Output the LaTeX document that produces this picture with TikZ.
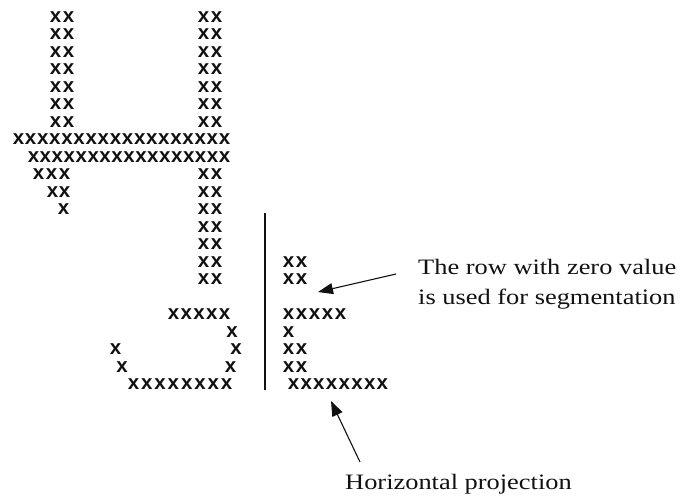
\documentclass[tikz,border=0pt]{standalone}
\usepackage{fontspec}
\usepackage{xcolor}
\usetikzlibrary{arrows.meta}
\newfontfamily\cellfont{Liberation Sans Bold}
\newfontfamily\notefont{Liberation Serif}[FakeStretch=1.2]
\definecolor{ink}{HTML}{111111}

\begin{document}
\begin{tikzpicture}[
  x=1pt,y=-1pt,
  cell/.style={inner sep=0pt,text=ink,text height=10.6pt,text depth=0pt,
               font=\cellfont\fontsize{20.5}{20.5}\selectfont},
  note/.style={inner sep=0pt,align=left,text=ink,
               font=\notefont\fontsize{22}{30}\selectfont},
  axis/.style={draw=ink,line width=2.2pt},
  pointer/.style={-{Triangle[length=15pt,width=11pt]},draw=ink,line width=1.1pt}
]
\useasboundingbox (0,0) rectangle (688,501);

% Character rows: name/row/first centre/count/advance.
\foreach \r in {1,...,7} {
  \foreach \i in {1,2}
    \node[cell] (a\r-\i) at ({55.5+(\i-1)*13},{17+17.5*(\r-1)}) {x};
}
\foreach \r in {1,...,7,10,11,...,16} {
  \foreach \i in {1,2}
    \node[cell] (b\r-\i) at ({203.5+(\i-1)*13},{17+17.5*(\r-1)}) {x};
}
\foreach \nm/\r/\xa/\n/\d in {bar/8/18.5/18/12.12, bbar/9/33.5/17/11.94,
    a10/10/38.5/3/13, a11/11/52.5/2/12, a12/12/63.5/1/0,
    c18/18/173.5/5/12.75, c19/19/232/1/0,
    d20/20/115.5/1/0, e20/20/236/1/0,
    d21/21/122/1/0, e21/21/230.5/1/0,
    c22/22/133.5/8/13.3} {
  \foreach \i in {1,...,\n}
    \node[cell] (\nm-\i) at ({\xa+(\i-1)*\d},{17+17.5*(\r-1)}) {x};
}

% Projection column to the right of the divider.
\draw[axis] (265,213) -- (265,390);
\foreach \r/\n/\xa/\d in {15/2/288.5/13, 16/2/288.5/13, 18/5/288.5/13,
    19/1/288.5/0, 20/2/288.5/13, 21/2/288.5/13, 22/8/293.5/12.7} {
  \foreach \i in {1,...,\n}
    \node[cell] (p\r-\i) at ({\xa+(\i-1)*\d},{17+17.5*(\r-1)}) {x};
}

% Labels and their pointers.
\node[note,anchor=west] (zerotxt) at (418,284)
  {The row with zero value\\is used for segmentation};
\node[note,anchor=west] (projtxt) at (345,484) {Horizontal projection};

\coordinate (zerotail) at (396,274);
\coordinate (zerotip) at (318,292);
\coordinate (projtail) at (360,462);
\coordinate (projtip) at (331,401);
\draw[pointer] (zerotail) -- (zerotip);
\draw[pointer] (projtail) -- (projtip);

\end{tikzpicture}
\end{document}
